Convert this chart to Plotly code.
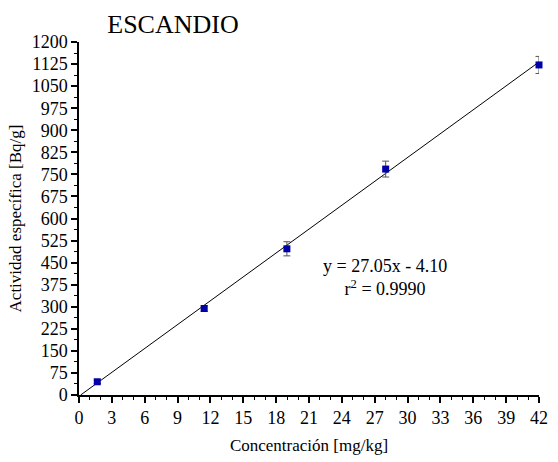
import plotly.graph_objects as go

# Data
conc = [1.67, 11.43, 18.98, 28.0, 42.0]          # mg/kg
activity = [45, 294, 497, 768, 1122]             # Bq/g
err = [6, 9, 24, 27, 29]
slope = 27.05
intercept = -4.10
fit_x = [-intercept / slope, 42.4]
fit_y = [slope * x + intercept for x in fit_x]

title_text = "ESCANDIO"
x_title = "Concentración [mg/kg]"
y_title = "Actividad específica [Bq/g]"
eq_text = "y = 27.05x - 4.10<br>r<sup>2</sup> = 0.9990"

font = "'Liberation Serif', 'Times New Roman', Times, 'DejaVu Serif', serif"

fig = go.Figure()
fig.add_trace(go.Scatter(
    x=fit_x, y=fit_y, mode="lines",
    line=dict(color="black", width=1), cliponaxis=False, showlegend=False,
    hoverinfo="skip"))
fig.add_trace(go.Scatter(
    x=conc, y=activity, mode="markers",
    marker=dict(symbol="square", size=7, color="#0000A8",
                line=dict(width=0)),
    error_y=dict(type="data", array=err, visible=True, color="#555555",
                 thickness=1, width=3.5),
    cliponaxis=False, showlegend=False))

fig.update_layout(
    width=558, height=462,
    margin=dict(l=79, r=10, t=42, b=59),
    paper_bgcolor="white", plot_bgcolor="white",
    font=dict(family=font, size=18, color="black"),
    title=dict(text=title_text, x=173/558, xanchor="center",
               y=1 - 23.5/462, yanchor="middle",
               font=dict(family=font, size=26, color="black")),
    annotations=[dict(text=eq_text, x=(391-79)/(558-79-10), xref="paper",
                      y=400, yref="y", yanchor="middle",
                      showarrow=False, font=dict(family=font, size=18))],
)

fig.update_xaxes(
    range=[0, 42], tickmode="linear", tick0=0, dtick=3,
    showline=True, linecolor="black", linewidth=1.5,
    ticks="outside", ticklen=6, tickwidth=1.5, tickcolor="black",
    minor=dict(dtick=1, ticks="outside", ticklen=3, tickwidth=1, tickcolor="black"),
    showgrid=False, zeroline=False,
    tickfont=dict(family=font, size=18),
    title=dict(text=x_title, font=dict(family=font, size=17), standoff=12))
fig.update_yaxes(
    range=[0, 1200], tickmode="linear", tick0=0, dtick=75,
    showline=True, linecolor="black", linewidth=1.5,
    ticks="outside", ticklen=6, tickwidth=1.5, tickcolor="black",
    minor=dict(dtick=37.5, ticks="outside", ticklen=3, tickwidth=1, tickcolor="black"),
    showgrid=False, zeroline=False,
    tickfont=dict(family=font, size=18),
    title=dict(text=y_title, font=dict(family=font, size=17), standoff=6))

fig.write_html("out.html")
